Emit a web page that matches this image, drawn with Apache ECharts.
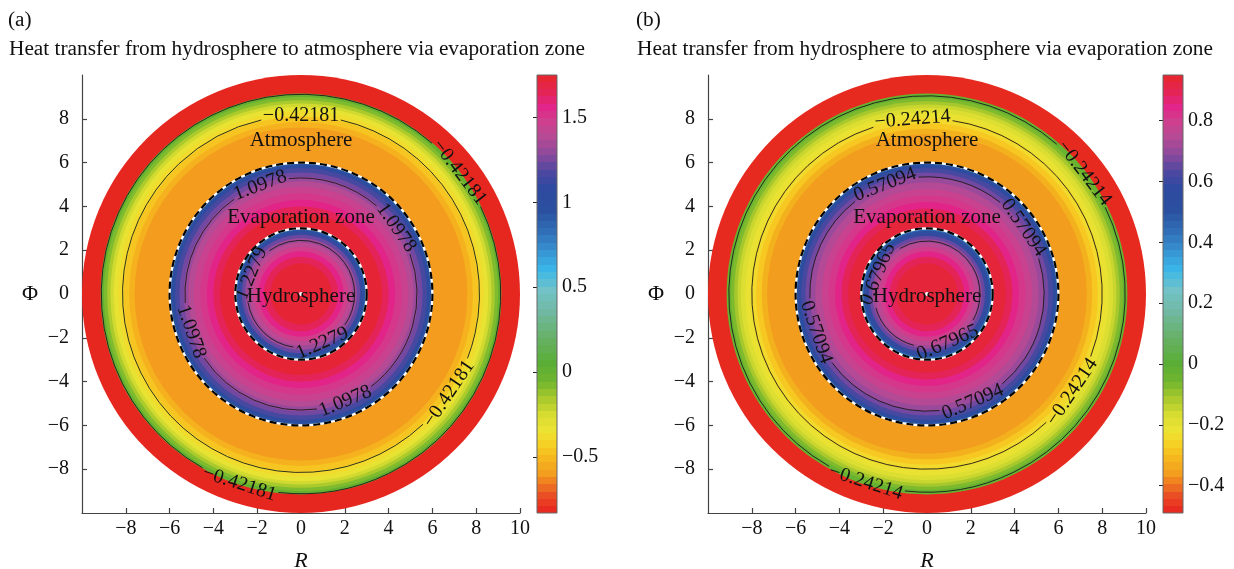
<!DOCTYPE html>
<html><head><meta charset="utf-8">
<script src="https://cdn.jsdelivr.net/npm/echarts@6/dist/echarts.min.js"></script>
<style>html,body{margin:0;padding:0;background:#fff}#c{width:1234px;height:569px}</style>
</head><body><div id="c"></div>
<script>
// ---------------- data ----------------
const panelLetters = ['(a)', '(b)'];
const panelTitle = 'Heat transfer from hydrosphere to atmosphere via evaporation zone';
const axisMin = -10, axisMax = 10;

const leftRange = [-0.83, 1.75];
const rightRange = [-0.49, 0.95];
const leftCbTicks = [-0.5, 0, 0.5, 1, 1.5];
const rightCbTicks = [-0.4, -0.2, 0, 0.2, 0.4, 0.6, 0.8];

// radial profile: outer radius of each band and its value
const leftRingOuter = [1.4, 1.7, 1.95, 2.15, 2.35, 2.55, 2.7, 2.82, 2.92, 3.0,
  3.7, 4.0, 4.3, 4.6, 4.9, 5.15, 5.35, 5.55, 5.75, 5.88, 5.95, 6.0,
  7.6, 7.85, 8.1, 8.35, 8.55, 8.7, 8.85, 9.0, 9.15, 10];
const leftRingValue = [1.72, 1.64, 1.56, 1.48, 1.40, 1.32, 1.22, 1.10, 0.98, 0.80,
  1.72, 1.64, 1.56, 1.50, 1.45, 1.38, 1.31, 1.24, 1.16, 1.04, 0.94, 0.70,
  -0.6, -0.52, -0.46, -0.38, -0.32, -0.24, -0.16, -0.08, 0.0, -0.82];

const rightRingOuter = [1.4, 1.7, 1.95, 2.15, 2.35, 2.5, 2.65, 2.78, 2.9, 3.0,
  3.6, 3.9, 4.2, 4.5, 4.8, 5.1, 5.35, 5.55, 5.75, 5.88, 5.95, 6.0,
  7.3, 7.55, 7.8, 8.05, 8.3, 8.5, 8.65, 8.8, 8.95, 9.15, 10];
const rightRingValue = [0.93, 0.89, 0.845, 0.80, 0.755, 0.71, 0.654, 0.587, 0.52, 0.42,
  0.93, 0.89, 0.845, 0.81, 0.783, 0.743, 0.704, 0.665, 0.621, 0.554, 0.498, 0.36,
  -0.36, -0.32, -0.28, -0.245, -0.21, -0.18, -0.15, -0.11, -0.07, -0.03, -0.48];

// contour lines: radius, label text, label angles (degrees, counter-clockwise from +R)
const leftContourRadius = [8.15, 9.12, 5.3, 2.45];
const leftContourText = ['\u22120.42181', '\u22120.42181', '1.0978', '1.2279'];
const leftContourAngles = [[90, -34], [37.5, -108], [110.6, 34.8, -161, -67.5], [157.6, -66.6]];
const rightContourRadius = [8.0, 9.05, 5.35, 2.42];
const rightContourText = ['\u22120.24214', '\u22120.24214', '0.57094', '0.67965'];
const rightContourAngles = [[94.7, -34], [37.5, -108], [111, 34.5, -161, -67], [158, -67]];

const boundaryRadius = [3, 6];
const zoneNames = ['Atmosphere', 'Evaporation zone', 'Hydrosphere'];
const zoneNameY = [7.0, 3.5, -0.1];

// colormap (normalised position, colour)
const colormap = [
  [0.000, '#e6231f'], [0.039, '#ea4a24'], [0.089, '#f39c1e'], [0.128, '#f5b81e'],
  [0.151, '#f6cc22'], [0.186, '#efe433'], [0.225, '#d6dc30'], [0.264, '#a6c82c'],
  [0.302, '#6fb52f'], [0.341, '#5aae34'], [0.399, '#66b064'], [0.457, '#70b8a0'],
  [0.508, '#72c2c8'], [0.554, '#3ab8e8'], [0.601, '#3890d0'], [0.640, '#3070b8'],
  [0.690, '#2c50a0'], [0.740, '#2e4aa0'], [0.775, '#4a48a0'], [0.800, '#7048a0'],
  [0.830, '#9a4a9a'], [0.860, '#b84a94'], [0.895, '#d03e8c'], [0.926, '#e2248a'],
  [0.957, '#e42458'], [1.000, '#e6262a']
];

// ---------------- helpers ----------------
const FONT = "'Liberation Serif','Times New Roman',serif";
function hex2rgb(h) { return [parseInt(h.substr(1, 2), 16), parseInt(h.substr(3, 2), 16), parseInt(h.substr(5, 2), 16)]; }
function cmapN(n) {
  n = Math.max(0, Math.min(1, n));
  for (let i = 1; i < colormap.length; i++) {
    if (n <= colormap[i][0]) {
      const a = colormap[i - 1], b = colormap[i];
      const t = (n - a[0]) / (b[0] - a[0]);
      const ca = hex2rgb(a[1]), cb = hex2rgb(b[1]);
      return 'rgb(' + ca.map((v, k) => Math.round(v + (cb[k] - v) * t)).join(',') + ')';
    }
  }
  return colormap[colormap.length - 1][1];
}
function cmap(v, range) { return cmapN((v - range[0]) / (range[1] - range[0])); }
function minus(v) { return String(v).replace('-', '\u2212'); }

function ringSeries(gi, outer, values, range) {
  const data = outer.map((r, i) => [r, values[i]]).reverse();
  return {
    type: 'custom', xAxisIndex: gi, yAxisIndex: gi, silent: true, animation: false, data,
    renderItem(params, api) {
      const c = api.coord([0, 0]);
      const p = api.coord([api.value(0), 0]);
      return { type: 'circle', shape: { cx: c[0], cy: c[1], r: p[0] - c[0] }, style: { fill: cmap(api.value(1), range) } };
    }
  };
}

function textWidth(s, fs) {
  let w = 0;
  for (const ch of s) w += (ch === '.' ? 0.25 : ch === '\u2212' ? 0.56 : 0.5) * fs;
  return w;
}

function contourSeries(gi, radii, texts, angles) {
  const fs = 20;
  return {
    type: 'custom', xAxisIndex: gi, yAxisIndex: gi, silent: true, animation: false,
    data: radii.map((r, i) => [r, 0, i]),
    renderItem(params, api) {
      const idx = api.value(2);
      const c = api.coord([0, 0]);
      const rad = api.coord([api.value(0), 0])[0] - c[0];
      const r = api.value(0);
      const txt = texts[idx];
      const half = (textWidth(txt, fs) / 2 + 2) / rad;
      const gaps = angles[idx].map(a => -a * Math.PI / 180).sort((a, b) => a - b);
      const children = [];
      for (let k = 0; k < gaps.length; k++) {
        const s = gaps[k] + half;
        const e = (k + 1 < gaps.length ? gaps[k + 1] : gaps[0] + 2 * Math.PI) - half;
        children.push({ type: 'arc', shape: { cx: c[0], cy: c[1], r: rad, startAngle: s, endAngle: e, clockwise: true },
          style: { stroke: '#1a1a1a', lineWidth: 0.9, fill: null } });
      }
      angles[idx].forEach(a => {
        const th = a * Math.PI / 180;
        const p = api.coord([r * Math.cos(th), r * Math.sin(th)]);
        let rot = a - 90;
        while (rot > 90) rot -= 180;
        while (rot <= -90) rot += 180;
        children.push({ type: 'text', x: p[0], y: p[1], rotation: rot * Math.PI / 180,
          style: { text: txt, fill: '#111', fontSize: fs, fontFamily: FONT, align: 'center', verticalAlign: 'middle' } });
      });
      return { type: 'group', children };
    }
  };
}

function boundarySeries(gi) {
  return {
    type: 'custom', xAxisIndex: gi, yAxisIndex: gi, silent: true, animation: false,
    data: boundaryRadius.map(r => [r, 0]),
    renderItem(params, api) {
      const c = api.coord([0, 0]);
      const rad = api.coord([api.value(0), 0])[0] - c[0];
      return { type: 'group', children: [
        { type: 'circle', shape: { cx: c[0], cy: c[1], r: rad }, style: { fill: null, stroke: '#ffffff', lineWidth: 2.2 } },
        { type: 'circle', shape: { cx: c[0], cy: c[1], r: rad }, style: { fill: null, stroke: '#000000', lineWidth: 2.2, lineDash: [7, 4] } }
      ] };
    }
  };
}

function zoneSeries(gi) {
  return {
    type: 'custom', xAxisIndex: gi, yAxisIndex: gi, silent: true, animation: false,
    data: zoneNames.map((n, i) => [0, zoneNameY[i], i]),
    renderItem(params, api) {
      const p = api.coord([api.value(0), api.value(1)]);
      const c = api.coord([0, 0]);
      const children = [{ type: 'text', x: p[0], y: p[1], style: { text: zoneNames[api.value(2)], fill: '#111', fontSize: 21, fontFamily: FONT, align: 'center', verticalAlign: 'middle' } }];
      if (params.dataIndex === 2) children.unshift({ type: 'circle', shape: { cx: c[0], cy: c[1], r: 2 }, style: { fill: '#fff' } });
      return { type: 'group', children };
    }
  };
}

function colorbarSeries(gi, range) {
  return {
    type: 'custom', xAxisIndex: gi, yAxisIndex: gi, silent: true, animation: false,
    data: [[0, range[0], 1, range[1]]],
    renderItem(params, api) {
      const p0 = api.coord([api.value(0), api.value(1)]);
      const p1 = api.coord([api.value(2), api.value(3)]);
      const N = 60, stops = [];
      for (let i = 0; i < N; i++) {
        const col = cmapN((i + 0.5) / N);
        stops.push({ offset: i / N, color: col }, { offset: (i + 1) / N, color: col });
      }
      return { type: 'rect', shape: { x: p0[0], y: p1[1], width: p1[0] - p0[0], height: p0[1] - p1[1] },
        style: { fill: new echarts.graphic.LinearGradient(0, 1, 0, 0, stops), stroke: '#666', lineWidth: 1 } };
    }
  };
}

// ---------------- layout ----------------
const gridBase = { outerBoundsMode: 'none', containLabel: false };
const plotGrids = [
  Object.assign({ left: 82, top: 75, width: 438, height: 438 }, gridBase),
  Object.assign({ left: 708, top: 75, width: 438, height: 438 }, gridBase)];
const cbGrids = [
  Object.assign({ left: 537, top: 75, width: 20, height: 438 }, gridBase),
  Object.assign({ left: 1163, top: 75, width: 20, height: 438 }, gridBase)];

const axisStyle = { color: '#444', width: 1.2 };
function plotX(gi) {
  return { gridIndex: gi, type: 'value', min: axisMin, max: axisMax, interval: 2,
    axisLine: { onZero: false, lineStyle: axisStyle }, axisTick: { inside: true, length: 5, lineStyle: axisStyle },
    axisLabel: { showMinLabel: false, formatter: minus, fontFamily: FONT, fontSize: 20, color: '#111', margin: 6 },
    splitLine: { show: false },
    name: 'R', nameLocation: 'middle', nameGap: 37, nameTextStyle: { fontStyle: 'italic', fontFamily: FONT, fontSize: 22, color: '#111' } };
}
function plotY(gi) {
  return { gridIndex: gi, type: 'value', min: axisMin, max: axisMax, interval: 2,
    axisLine: { onZero: false, lineStyle: axisStyle }, axisTick: { inside: true, length: 5, lineStyle: axisStyle },
    axisLabel: { showMinLabel: false, showMaxLabel: false, formatter: minus, fontFamily: FONT, fontSize: 20, color: '#111', margin: 13 },
    splitLine: { show: false },
    name: '\u03A6', nameLocation: 'middle', nameRotate: 0, nameGap: 44, nameTextStyle: { fontFamily: FONT, fontSize: 22, color: '#111' } };
}
function cbX(gi) { return { gridIndex: gi, type: 'value', min: 0, max: 1, show: false }; }
function cbY(gi, range, ticks) {
  return { gridIndex: gi, type: 'value', min: range[0], max: range[1], position: 'right',
    axisLine: { show: false }, axisTick: { show: true, inside: true, length: 4, customValues: ticks, lineStyle: { color: '#222' } },
    axisLabel: { customValues: ticks, formatter: minus, fontFamily: FONT, fontSize: 20, color: '#111', margin: 5 },
    splitLine: { show: false } };
}

const titleStyle = { fontFamily: FONT, fontSize: 21.3, fontWeight: 'normal', color: '#111' };
const option = {
  backgroundColor: '#fff',
  animation: false,
  title: [
    { text: panelLetters[0], left: 8, top: 10, padding: 0, textStyle: titleStyle },
    { text: panelTitle, left: 9, top: 39, padding: 0, textStyle: titleStyle },
    { text: panelLetters[1], left: 636, top: 10, padding: 0, textStyle: titleStyle },
    { text: panelTitle, left: 637, top: 39, padding: 0, textStyle: titleStyle }
  ],
  grid: [plotGrids[0], cbGrids[0], plotGrids[1], cbGrids[1]],
  xAxis: [plotX(0), cbX(1), plotX(2), cbX(3)],
  yAxis: [plotY(0), cbY(1, leftRange, leftCbTicks), plotY(2), cbY(3, rightRange, rightCbTicks)],
  series: [
    ringSeries(0, leftRingOuter, leftRingValue, leftRange),
    contourSeries(0, leftContourRadius, leftContourText, leftContourAngles),
    boundarySeries(0),
    zoneSeries(0),
    colorbarSeries(1, leftRange),
    ringSeries(2, rightRingOuter, rightRingValue, rightRange),
    contourSeries(2, rightContourRadius, rightContourText, rightContourAngles),
    boundarySeries(2),
    zoneSeries(2),
    colorbarSeries(3, rightRange)
  ]
};
const chart = echarts.init(document.getElementById('c'), null, { renderer: 'canvas' });
chart.setOption(option);
</script></body></html>
